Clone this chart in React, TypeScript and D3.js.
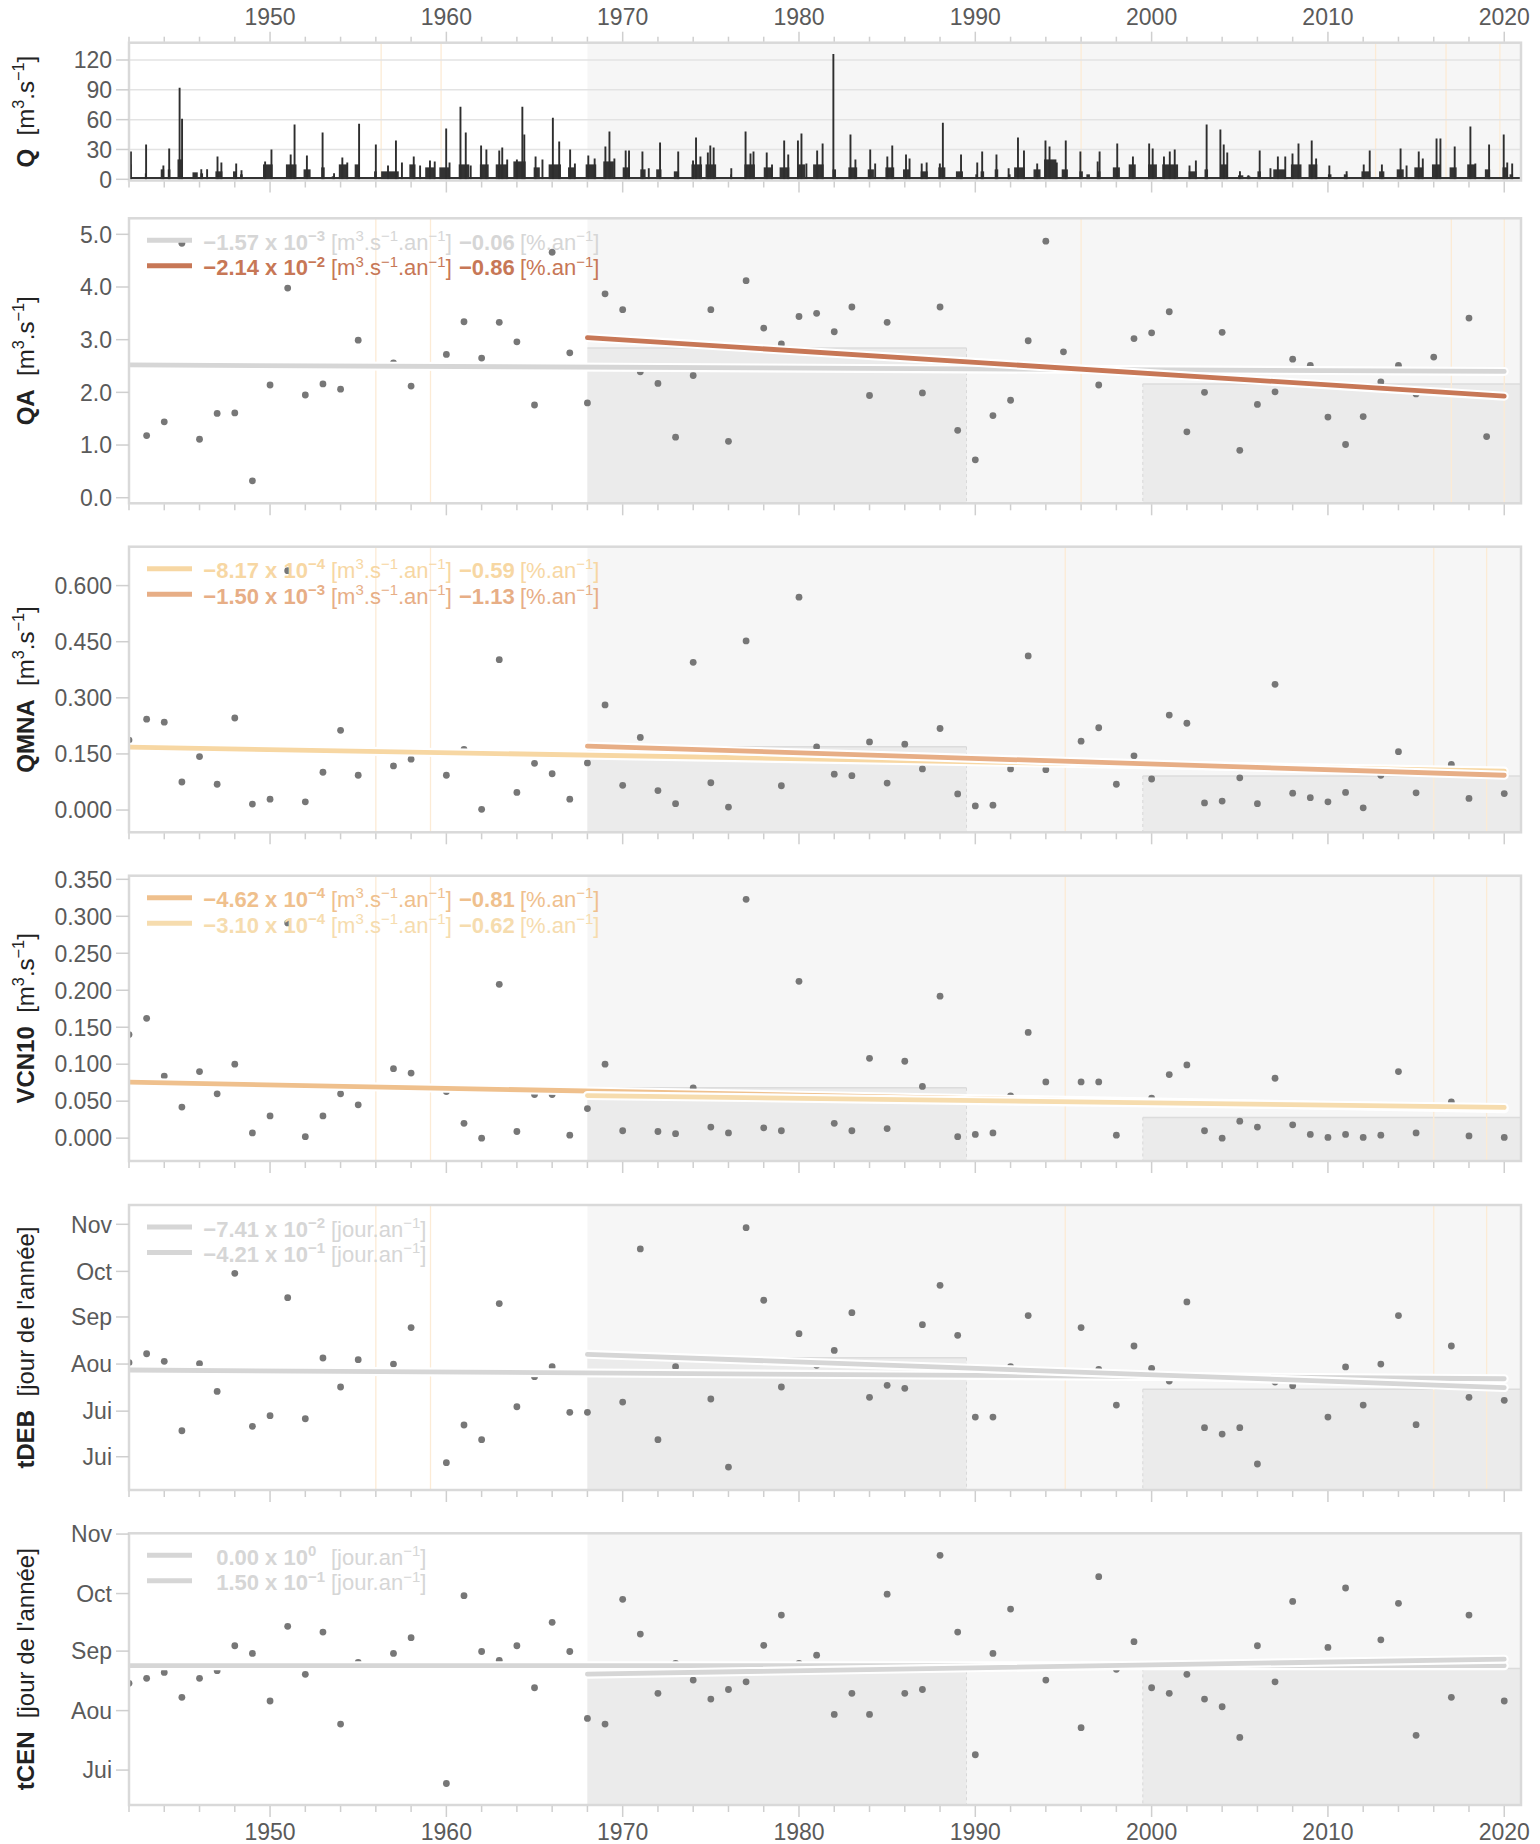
import React, { useEffect } from "react";
import * as d3 from "d3";

// ---------------- DATA ----------------
const YEARS: number[] = d3.range(1942, 2021);

const QA_VALUES: (number | null)[] = [
  null, 1.18, 1.44, 4.83, 1.11, 1.60, 1.61, 0.32,
  2.14, 3.98, 1.95, 2.16, 2.06, 2.99, null, 2.56, 2.12, null,
  2.72, 3.34, 2.65, 3.33, 2.96, 1.76, 4.66, 2.75, 1.80, 3.87,
  3.57, 2.39, 2.17, 1.15, 2.32, 3.57, 1.07, 4.12, 3.22, 2.92,
  3.44, 3.50, 3.15, 3.62, 1.94, 3.33, null, 1.99, 3.62, 1.28,
  0.72, 1.56, 1.85, 2.98, 4.87, 2.77, null, 2.14, null, 3.02,
  3.13, 3.53, 1.25, 2.00, 3.14, 0.90, 1.77, 2.01, 2.63, 2.51,
  1.53, 1.01, 1.54, 2.20, 2.51, 1.97, 2.67, null, 3.41, 1.16,
  null,
];

const QMNA_VALUES: (number | null)[] = [
  0.187, 0.243, 0.235, 0.075, 0.143, 0.069, 0.246, 0.016,
  0.029, 0.640, 0.022, 0.101, 0.213, 0.093, null, 0.118, 0.136, null,
  0.093, 0.162, 0.002, 0.402, 0.047, 0.125, 0.097, 0.029, 0.126, 0.281,
  0.066, 0.194, 0.052, 0.017, 0.395, 0.073, 0.008, 0.452, null, 0.065,
  0.569, 0.169, 0.096, 0.092, 0.182, 0.072, 0.176, 0.110, 0.218, 0.043,
  0.011, 0.013, 0.110, 0.412, 0.108, null, 0.184, 0.220, 0.069, 0.145,
  0.083, 0.254, 0.232, 0.019, 0.024, 0.086, 0.017, 0.336, 0.045, 0.033,
  0.022, 0.047, 0.006, 0.093, 0.156, 0.046, null, 0.122, 0.031, null,
  0.044,
];

const VCN10_VALUES: (number | null)[] = [
  0.140, 0.162, 0.084, 0.042, 0.090, 0.060, 0.100, 0.007,
  0.030, 0.291, 0.002, 0.030, 0.060, 0.045, null, 0.094, 0.088, null,
  0.063, 0.020, 0.000, 0.208, 0.009, 0.059, 0.059, 0.004, 0.040, 0.100,
  0.010, null, 0.009, 0.006, 0.068, 0.015, 0.007, 0.323, 0.014, 0.010,
  0.212, 0.052, 0.020, 0.010, 0.108, 0.013, 0.104, 0.070, 0.192, 0.002,
  0.005, 0.007, 0.057, 0.143, 0.076, null, 0.076, 0.076, 0.004, null,
  0.054, 0.086, 0.099, 0.010, 0.000, 0.023, 0.015, 0.081, 0.018, 0.005,
  0.001, 0.005, 0.001, 0.004, 0.090, 0.007, null, 0.049, 0.003, null,
  0.001,
];

const TDEB_VALUES: (number | null)[] = [
  213.9, 219.8, 214.8, 169.1, 213.3, 195.0, 272.7, 172.0,
  179.0, 256.7, 177.0, 217.0, 197.9, 215.9, null, 213.0, 237.0, null,
  148.1, 172.9, 163.2, 252.8, 184.9, 204.7, 211.3, 181.2, 181.2, null,
  188.0, 288.8, 163.2, 211.3, null, 190.0, 145.2, 302.8, 255.0, 197.9,
  233.0, 212.2, 222.0, 246.8, 191.1, 199.0, 197.0, 238.9, 264.8, 231.9,
  178.1, 178.1, 211.3, 244.9, null, null, 237.0, 209.5, 186.0, 224.9,
  210.2, 201.8, 253.9, 171.1, 166.9, 171.1, 147.2, 201.2, 198.8, null,
  178.1, 211.1, 186.0, 213.0, 244.9, 173.1, null, 224.9, 191.1, null,
  189.1,
];

const TCEN_VALUES: (number | null)[] = [
  227.2, 229.8, 232.9, 219.9, 229.8, 233.8, 246.8, 242.8,
  218.0, 256.9, 231.9, 253.9, 206.0, 238.1, null, 242.8, 251.0, null,
  175.0, 272.9, 243.8, 239.2, 246.8, 224.9, 259.0, 243.8, 208.9, 206.0,
  271.0, 252.9, 222.0, 237.6, 228.9, 219.0, 224.0, 228.0, 247.0, 262.8,
  237.6, 241.9, 211.0, 222.0, 211.0, 273.7, 222.0, 224.0, 293.9, 253.9,
  190.0, 242.8, 265.9, null, 228.9, null, 204.1, 282.8, 234.5, 248.9,
  224.9, 222.0, 231.9, 219.0, 215.0, 199.0, 246.8, 228.0, 269.9, null,
  245.9, 276.9, null, 249.9, 268.9, 200.1, null, 219.9, 262.8, null,
  218.0,
];

// Daily flow Q: flood peaks [date (decimal year), m3/s]
const Q_PEAKS: [number, number][] = [
  [1942.11, 28], [1942.97, 35], [1943.95, 14], [1944.28, 31], [1944.87, 92], [1945.01, 61],
  [1946.1, 10], [1946.43, 10], [1947.02, 23], [1947.24, 17], [1948.08, 16], [1948.38, 9],
  [1949.72, 18], [1950.08, 30], [1951.17, 25], [1951.39, 55], [1952.09, 24], [1952.98, 47],
  [1953.63, 6], [1954.1, 22], [1954.38, 17], [1955.05, 56], [1956.0, 35], [1956.69, 14],
  [1957.14, 39], [1957.48, 17], [1958.15, 23], [1958.51, 14], [1959.07, 19], [1959.34, 18],
  [1959.99, 51], [1960.18, 17], [1960.8, 73], [1961.1, 47], [1961.38, 14], [1961.97, 34],
  [1962.27, 30], [1963.0, 29], [1963.17, 32], [1963.45, 20], [1964.0, 20], [1964.31, 73],
  [1964.42, 45], [1965.06, 23], [1965.45, 20], [1966.04, 62], [1966.4, 38], [1967.02, 30],
  [1967.29, 16], [1968.05, 24], [1968.41, 21], [1969.02, 33], [1969.25, 48], [1969.53, 21],
  [1970.17, 29], [1970.36, 29], [1971.12, 28], [1971.48, 11], [1972.12, 37], [1973.15, 28],
  [1973.99, 19], [1974.16, 42], [1974.41, 23], [1974.83, 27], [1974.97, 34], [1975.16, 32],
  [1976.16, 11], [1976.97, 48], [1977.25, 26], [1977.42, 28], [1978.17, 27], [1978.47, 15],
  [1979.16, 39], [1979.39, 25], [1979.94, 39], [1980.14, 46], [1980.42, 16], [1981.03, 29],
  [1981.34, 36], [1981.95, 126], [1982.92, 45], [1983.2, 20], [1984.04, 30], [1984.32, 16],
  [1985.01, 23], [1985.29, 34], [1986.07, 25], [1986.27, 21], [1986.96, 16], [1987.24, 17],
  [1987.99, 16], [1988.16, 57], [1989.19, 25], [1990.11, 17], [1990.39, 28], [1991.2, 25],
  [1991.89, 11], [1992.42, 42], [1992.76, 29], [1993.51, 16], [1993.98, 39], [1994.21, 33],
  [1994.62, 17], [1995.13, 39], [1995.96, 28], [1996.94, 18], [1997.05, 28], [1998.05, 36],
  [1998.94, 23], [1999.86, 36], [2000.06, 31], [2000.7, 23], [2001.03, 28], [2001.31, 30],
  [2002.15, 14], [2002.51, 19], [2003.12, 55], [2003.9, 50], [2004.09, 35], [2004.29, 27],
  [2005.01, 8], [2005.49, 4], [2006.13, 29], [2006.74, 11], [2007.16, 23], [2007.58, 23],
  [2007.99, 26], [2008.33, 36], [2009.08, 39], [2009.33, 21], [2010.08, 14], [2011.06, 8],
  [2012.03, 15], [2012.37, 29], [2013.06, 15], [2014.12, 31], [2014.46, 14], [2015.15, 28],
  [2015.38, 21], [2016.16, 41], [2016.38, 41], [2017.19, 33], [2018.08, 53], [2018.36, 16],
  [2019.14, 35], [2019.97, 45], [2020.17, 17], [2020.45, 16],
];

// Daily flow Q: sustained winter high-flow spells [start, end, typical m3/s]
const Q_SPELLS: [number, number, number][] = [
  [1942.0, 1942.15, 15], [1942.9, 1943.0, 6], [1943.8, 1944.0, 10], [1944.2, 1944.35, 10],
  [1944.75, 1945.05, 20], [1945.6, 1945.9, 7], [1946.05, 1946.2, 6], [1946.9, 1947.3, 8],
  [1947.9, 1948.1, 8], [1948.3, 1948.45, 5], [1949.6, 1950.15, 15], [1950.9, 1951.5, 15],
  [1951.9, 1952.3, 10], [1952.9, 1953.1, 12], [1953.5, 1953.65, 3], [1953.9, 1954.4, 15],
  [1954.8, 1955.1, 15], [1955.9, 1956.05, 8], [1956.3, 1957.3, 8], [1957.9, 1958.25, 15],
  [1958.8, 1959.35, 12], [1959.6, 1960.2, 12], [1960.7, 1961.3, 15], [1961.9, 1962.4, 15],
  [1962.8, 1963.45, 15], [1963.8, 1964.5, 18], [1964.95, 1965.3, 12], [1965.8, 1966.5, 15],
  [1966.9, 1967.3, 12], [1967.9, 1968.5, 15], [1968.9, 1969.5, 18], [1970.0, 1970.4, 12],
  [1971.0, 1971.3, 10], [1971.9, 1972.2, 10], [1972.9, 1973.2, 8], [1973.9, 1974.5, 15],
  [1974.7, 1975.3, 15], [1976.1, 1976.2, 5], [1976.9, 1977.5, 15], [1978.0, 1978.5, 12],
  [1978.9, 1979.45, 12], [1979.9, 1980.35, 15], [1980.8, 1981.4, 15], [1981.9, 1982.1, 10],
  [1982.8, 1983.3, 12], [1983.9, 1984.25, 10], [1984.9, 1985.4, 12], [1985.9, 1986.3, 10],
  [1986.9, 1987.3, 8], [1987.9, 1988.3, 12], [1988.9, 1989.3, 8], [1990.0, 1990.12, 5],
  [1990.3, 1990.5, 8], [1991.1, 1991.3, 10], [1991.85, 1992.0, 5], [1992.2, 1992.8, 12],
  [1993.3, 1993.7, 10], [1993.9, 1994.6, 20], [1994.9, 1995.25, 10], [1995.9, 1996.1, 8],
  [1996.3, 1996.5, 5], [1996.9, 1997.1, 8], [1997.8, 1998.2, 12], [1998.7, 1999.1, 15],
  [1999.8, 2000.3, 15], [2000.6, 2001.5, 15], [2002.1, 2002.55, 8], [2003.0, 2003.2, 10],
  [2003.9, 2004.3, 15], [2004.9, 2005.2, 4], [2005.4, 2005.6, 3], [2006.0, 2006.2, 8],
  [2006.9, 2007.6, 10], [2007.9, 2008.5, 15], [2008.9, 2009.4, 15], [2010.0, 2010.2, 5],
  [2010.9, 2011.1, 5], [2011.9, 2012.4, 8], [2012.9, 2013.2, 8], [2013.9, 2014.3, 10],
  [2014.9, 2015.4, 12], [2015.9, 2016.4, 15], [2016.9, 2017.3, 12], [2017.9, 2018.4, 15],
  [2018.9, 2019.2, 10], [2019.9, 2020.2, 12], [2020.3, 2020.5, 5],
];
const Q_BASEFLOW = 1.2;

// Trends: [whole period, 1968-2020]
const TREND_FROM = [1942, 1968];
const TREND_TO = 2020;
const QA_TREND_START = [2.52, 3.04];
const QA_TREND_SLOPE = [-1.57e-3, -2.14e-2];
const QA_TREND_PCT = [-0.06, -0.86];
const QMNA_TREND_START = [0.168, 0.171];
const QMNA_TREND_SLOPE = [-8.17e-4, -1.5e-3];
const QMNA_TREND_PCT = [-0.59, -1.13];
const VCN10_TREND_START = [0.0757, 0.0576];
const VCN10_TREND_SLOPE = [-4.62e-4, -3.1e-4];
const VCN10_TREND_PCT = [-0.81, -0.62];
const TDEB_TREND_START = [209.1, 219.4];
const TDEB_TREND_SLOPE = [-7.41e-2, -4.21e-1];
const TCEN_TREND_START = [236.4, 232.0];
const TCEN_TREND_SLOPE = [0, 1.5e-1];

// Period means (shaded blocks) for 1968-1989 and 2000-2020
const SUB_PERIODS: [number, number][] = [[1968, 1989.5], [1999.5, 2020.95]];
const QA_PERIOD_MEAN = [2.84, 2.16];
const QMNA_PERIOD_MEAN = [0.169, 0.091];
const VCN10_PERIOD_MEAN = [0.068, 0.028];
const TDEB_PERIOD_MEAN = [217.2, 196.4];
const TCEN_PERIOD_MEAN = [233.5, 235.0];

const ANALYSIS_START = 1968;

// Missing-data markers
const GAPS_Q = [1956.3, 1959.7, 1996.0, 2012.7, 2016.7, 2019.75];
const GAPS_QA = [1956.0, 1959.1, 1996.0, 2017.0, 2020.0];
const GAPS_LOW = [1956.0, 1959.1, 1995.1, 2016.0, 2019.0];
const GAPS_TCEN: number[] = [];

// Ticks
const X_TICKS: number[] = d3.range(1942, 2021, 2);
const Q_TICKS = [0, 30, 60, 90, 120];
const QA_TICKS = [0, 1, 2, 3, 4, 5];
const QMNA_TICKS = [0, 0.15, 0.3, 0.45, 0.6];
const VCN10_TICKS = [0, 0.05, 0.1, 0.15, 0.2, 0.25, 0.3, 0.35];
const TDEB_TICKS = [152, 182, 213, 244, 274, 305];
const TDEB_TICK_LABELS = ["Jui", "Jui", "Aou", "Sep", "Oct", "Nov"];
const TCEN_TICKS = [182, 213, 244, 274, 305];
const TCEN_TICK_LABELS = ["Jui", "Aou", "Sep", "Oct", "Nov"];

// ---------------- STYLE / LAYOUT ----------------
const FONT = "'Liberation Sans', Arial, Helvetica, sans-serif";
const X0 = 129;
const X1 = 1521;
const xScale = d3.scaleLinear().domain([1942, 2020.95]).range([X0, X1]);

const GRAY_TREND = "#d6d6d6";
const C_QA = [GRAY_TREND, "#c77756"];
const C_QMNA = ["#f7d7a3", "#e7ae86"];
const C_VCN10 = ["#efc08d", "#f6dcae"];
const C_GRAY = [GRAY_TREND, GRAY_TREND];

type Seg = { t: string; sup?: boolean; b?: boolean };

const minus = (s: string) => s.replace("-", "\u2212");

function RichText(props: {
  segs: Seg[]; x: number; y: number; size: number; fill: string;
  anchor?: string; transform?: string;
}) {
  const { segs, x, y, size, fill, anchor = "start", transform } = props;
  const supSize = size * 0.68;
  const shift = size * 0.4;
  let raised = false;
  const spans = segs.map((s, i) => {
    let dy = 0;
    if (s.sup && !raised) { dy = -shift; raised = true; }
    else if (!s.sup && raised) { dy = shift; raised = false; }
    return (
      <tspan key={i} dy={dy} fontSize={s.sup ? supSize : size} fontWeight={s.b ? 700 : 400}>
        {s.t}
      </tspan>
    );
  });
  return (
    <text x={x} y={y} fill={fill} textAnchor={anchor as any} transform={transform}
      style={{ whiteSpace: "pre" }} fontFamily={FONT}>
      {spans}
    </text>
  );
}

function sci(v: number) {
  if (v === 0) return { m: "0.00", e: "0" };
  const e = Math.floor(Math.log10(Math.abs(v)));
  const m = v / Math.pow(10, e);
  return { m: minus(m.toFixed(2)), e: minus(String(e)) };
}

const UNIT_FLOW: Seg[] = [{ t: "[m" }, { t: "3", sup: true }, { t: ".s" }, { t: "\u22121", sup: true }, { t: "]" }];
const UNIT_DAY: Seg[] = [{ t: "[jour de l'ann\u00e9e]" }];
const UNIT_FLOW_TREND: Seg[] = [
  { t: "[m" }, { t: "3", sup: true }, { t: ".s" }, { t: "\u22121", sup: true },
  { t: ".an" }, { t: "\u22121", sup: true }, { t: "]" },
];
const UNIT_PCT: Seg[] = [{ t: "[%.an" }, { t: "\u22121", sup: true }, { t: "]" }];
const UNIT_DAY_TREND: Seg[] = [{ t: "[jour.an" }, { t: "\u22121", sup: true }, { t: "]" }];

type PanelProps = {
  id: string;
  top: number;
  bottom: number;
  domain: [number, number];
  ticks: number[];
  tickLabels?: string[];
  tickFormat?: (v: number) => string;
  name: string;
  unit: Seg[];
  values?: (number | null)[];
  periodMeans?: number[];
  gaps: number[];
  trendStart?: number[];
  trendSlope?: number[];
  trendPct?: number[];
  trendColors?: string[];
  trendUnit?: Seg[];
  hydro?: boolean;
  topAxis?: boolean;
  bottomLabels?: boolean;
};

function Panel(p: PanelProps) {
  const y = d3.scaleLinear().domain(p.domain).range([p.bottom, p.top]);
  const clipId = `clip-${p.id}`;
  const w = X1 - X0;
  const h = p.bottom - p.top;
  const tickLabel = (v: number, i: number) =>
    p.tickLabels ? p.tickLabels[i] : p.tickFormat ? p.tickFormat(v) : String(v);
  const line = d3.line<[number, number]>().x((d) => xScale(d[0])).y((d) => y(d[1]));

  return (
    <g>
      <defs>
        <clipPath id={clipId}>
          <rect x={X0} y={p.top} width={w} height={h} />
        </clipPath>
      </defs>
      <rect x={X0} y={p.top} width={w} height={h} fill="#ffffff" />
      <rect x={xScale(ANALYSIS_START)} y={p.top} width={X1 - xScale(ANALYSIS_START)} height={h} fill="#f6f6f6" />
      <g clipPath={`url(#${clipId})`}>
        {p.periodMeans &&
          SUB_PERIODS.map((per, i) => {
            const x0 = xScale(per[0]);
            const x1 = Math.min(xScale(per[1]), X1);
            const yt = y(p.periodMeans![i]);
            return (
              <g key={i}>
                <rect x={x0} y={yt} width={x1 - x0} height={p.bottom - yt} fill="#ebebeb" />
                <line x1={x0} x2={x1} y1={yt} y2={yt} stroke="#dcdcdc" strokeWidth={1.5} />
                {i === 0 && (
                  <line x1={x1} x2={x1} y1={yt} y2={p.bottom} stroke="#d8d8d8" strokeWidth={1} strokeDasharray="3,3" />
                )}
                {i === 1 && (
                  <line x1={x0} x2={x0} y1={yt} y2={p.bottom} stroke="#d8d8d8" strokeWidth={1} strokeDasharray="3,3" />
                )}
              </g>
            );
          })}
        {p.gaps.map((g, i) => (
          <line key={i} x1={xScale(g)} x2={xScale(g)} y1={p.top} y2={p.bottom} stroke="#fcebd5" strokeWidth={1.3} />
        ))}
        {p.hydro &&
          p.ticks.filter((t) => t > 0).map((t) => (
            <line key={t} x1={X0} x2={X1} y1={y(t)} y2={y(t)} stroke="#e3e3e3" strokeWidth={1.5} />
          ))}
        {p.hydro && (
          <g>
            <line x1={xScale(1942)} x2={xScale(2020.95)} y1={y(Q_BASEFLOW)} y2={y(Q_BASEFLOW)} stroke="#333" strokeWidth={2} />
            {Q_SPELLS.map((s, i) => (
              <rect key={i} x={xScale(s[0])} y={y(s[2])} width={xScale(s[1]) - xScale(s[0])} height={y(0) - y(s[2])} fill="#333" />
            ))}
            {Q_PEAKS.map((pk, i) => (
              <line key={i} x1={xScale(pk[0])} x2={xScale(pk[0])} y1={y(0)} y2={y(pk[1])} stroke="#2e2e2e" strokeWidth={1.9} />
            ))}
          </g>
        )}
        {p.values &&
          p.values.map((v, i) =>
            v === null ? null : (
              <circle key={i} cx={xScale(YEARS[i])} cy={y(v)} r={3.4} fill="#777777" />
            )
          )}
        {p.trendStart &&
          p.trendStart.map((s, i) => {
            const from = TREND_FROM[i];
            const slope = p.trendSlope![i];
            const pts: [number, number][] = [
              [from, s],
              [TREND_TO, s + slope * (TREND_TO - from)],
            ];
            const d = line(pts) || "";
            return (
              <g key={i}>
                <path d={d} stroke="#ffffff" strokeWidth={9} fill="none" strokeLinecap="round" />
                <path d={d} stroke={p.trendColors![i]} strokeWidth={4.8} fill="none" strokeLinecap="round" />
              </g>
            );
          })}
      </g>
      <rect x={X0} y={p.top} width={w} height={h} fill="none" stroke="#d9d9d9" strokeWidth={2.5} />
      {p.ticks.map((t, i) => (
        <g key={t}>
          <line x1={116} x2={X0} y1={y(t)} y2={y(t)} stroke="#cfcfcf" strokeWidth={1.5} />
          <text x={112} y={y(t)} dy="0.36em" textAnchor="end" fontSize={23} fill="#5a5a5a" fontFamily={FONT}>
            {tickLabel(t, i)}
          </text>
        </g>
      ))}
      {X_TICKS.map((t) => (
        <line key={t} x1={xScale(t)} x2={xScale(t)} y1={p.bottom + 1} y2={p.bottom + (t % 10 === 0 ? 12 : 7)} stroke="#cfcfcf" strokeWidth={1.5} />
      ))}
      {p.bottomLabels &&
        X_TICKS.filter((t) => t % 10 === 0).map((t) => (
          <text key={t} x={xScale(t)} y={1840} textAnchor="middle" fontSize={23} fill="#5a5a5a" fontFamily={FONT}>
            {t}
          </text>
        ))}
      {p.topAxis &&
        X_TICKS.map((t) => (
          <line key={t} x1={xScale(t)} x2={xScale(t)} y1={p.top - 1} y2={p.top - (t % 10 === 0 ? 11 : 6)} stroke="#cfcfcf" strokeWidth={1.5} />
        ))}
      {p.topAxis &&
        X_TICKS.filter((t) => t % 10 === 0).map((t) => (
          <text key={t} x={xScale(t)} y={25} textAnchor="middle" fontSize={23} fill="#5a5a5a" fontFamily={FONT}>
            {t}
          </text>
        ))}
      <RichText
        segs={[{ t: p.name, b: true }, { t: "  " }, ...p.unit]}
        x={0} y={0} size={24} fill="#222"
        anchor="middle"
        transform={`translate(34,${(p.top + p.bottom) / 2}) rotate(-90)`}
      />
      {p.trendStart &&
        p.trendSlope!.map((sl, i) => {
          const ly = p.top + 22 + i * 25.5;
          const c = p.trendColors![i];
          const s = sci(sl);
          return (
            <g key={i}>
              <line x1={147} x2={192} y1={ly} y2={ly} stroke={c} strokeWidth={5} />
              <RichText segs={[{ t: s.m, b: true }]} x={259} y={ly + 9.5} size={22} fill={c} anchor="end" />
              <RichText segs={[{ t: " x 10", b: true }, { t: s.e, sup: true, b: true }]} x={259} y={ly + 9.5} size={22} fill={c} />
              <RichText segs={p.trendUnit!} x={331} y={ly + 9.5} size={22} fill={c} />
              {p.trendPct && (
                <RichText segs={[{ t: minus(p.trendPct[i].toFixed(2)), b: true }]} x={459} y={ly + 9.5} size={22} fill={c} />
              )}
              {p.trendPct && <RichText segs={UNIT_PCT} x={520} y={ly + 9.5} size={22} fill={c} />}
            </g>
          );
        })}
    </g>
  );
}

export default function App() {
  useEffect(() => {
    document.body.style.margin = "0";
  }, []);
  const f1 = d3.format(".1f");
  const f3 = d3.format(".3f");
  return (
    <svg width={1540} height={1844} style={{ position: "absolute", left: 0, top: 0, background: "#fff" }} fontFamily={FONT}>
      <rect x={0} y={0} width={1540} height={1844} fill="#ffffff" />
      <Panel id="q" top={42.7} bottom={180.5} domain={[-1.2, 137.4]} ticks={Q_TICKS}
        name="Q" unit={UNIT_FLOW} gaps={GAPS_Q} hydro topAxis />
      <Panel id="qa" top={218.3} bottom={503.3} domain={[-0.106, 5.304]} ticks={QA_TICKS} tickFormat={f1}
        name="QA" unit={UNIT_FLOW} values={QA_VALUES} periodMeans={QA_PERIOD_MEAN} gaps={GAPS_QA}
        trendStart={QA_TREND_START} trendSlope={QA_TREND_SLOPE} trendPct={QA_TREND_PCT}
        trendColors={C_QA} trendUnit={UNIT_FLOW_TREND} />
      <Panel id="qmna" top={546.7} bottom={832.3} domain={[-0.0595, 0.704]} ticks={QMNA_TICKS} tickFormat={f3}
        name="QMNA" unit={UNIT_FLOW} values={QMNA_VALUES} periodMeans={QMNA_PERIOD_MEAN} gaps={GAPS_LOW}
        trendStart={QMNA_TREND_START} trendSlope={QMNA_TREND_SLOPE} trendPct={QMNA_TREND_PCT}
        trendColors={C_QMNA} trendUnit={UNIT_FLOW_TREND} />
      <Panel id="vcn10" top={875.7} bottom={1161} domain={[-0.0309, 0.3549]} ticks={VCN10_TICKS} tickFormat={f3}
        name="VCN10" unit={UNIT_FLOW} values={VCN10_VALUES} periodMeans={VCN10_PERIOD_MEAN} gaps={GAPS_LOW}
        trendStart={VCN10_TREND_START} trendSlope={VCN10_TREND_SLOPE} trendPct={VCN10_TREND_PCT}
        trendColors={C_VCN10} trendUnit={UNIT_FLOW_TREND} />
      <Panel id="tdeb" top={1205} bottom={1490} domain={[130.1, 317.7]} ticks={TDEB_TICKS} tickLabels={TDEB_TICK_LABELS}
        name="tDEB" unit={UNIT_DAY} values={TDEB_VALUES} periodMeans={TDEB_PERIOD_MEAN} gaps={GAPS_LOW}
        trendStart={TDEB_TREND_START} trendSlope={TDEB_TREND_SLOPE}
        trendColors={C_GRAY} trendUnit={UNIT_DAY_TREND} />
      <Panel id="tcen" top={1533.3} bottom={1805} domain={[163.8, 305.4]} ticks={TCEN_TICKS} tickLabels={TCEN_TICK_LABELS}
        name="tCEN" unit={UNIT_DAY} values={TCEN_VALUES} periodMeans={TCEN_PERIOD_MEAN} gaps={GAPS_TCEN}
        trendStart={TCEN_TREND_START} trendSlope={TCEN_TREND_SLOPE}
        trendColors={C_GRAY} trendUnit={UNIT_DAY_TREND} bottomLabels />
    </svg>
  );
}
